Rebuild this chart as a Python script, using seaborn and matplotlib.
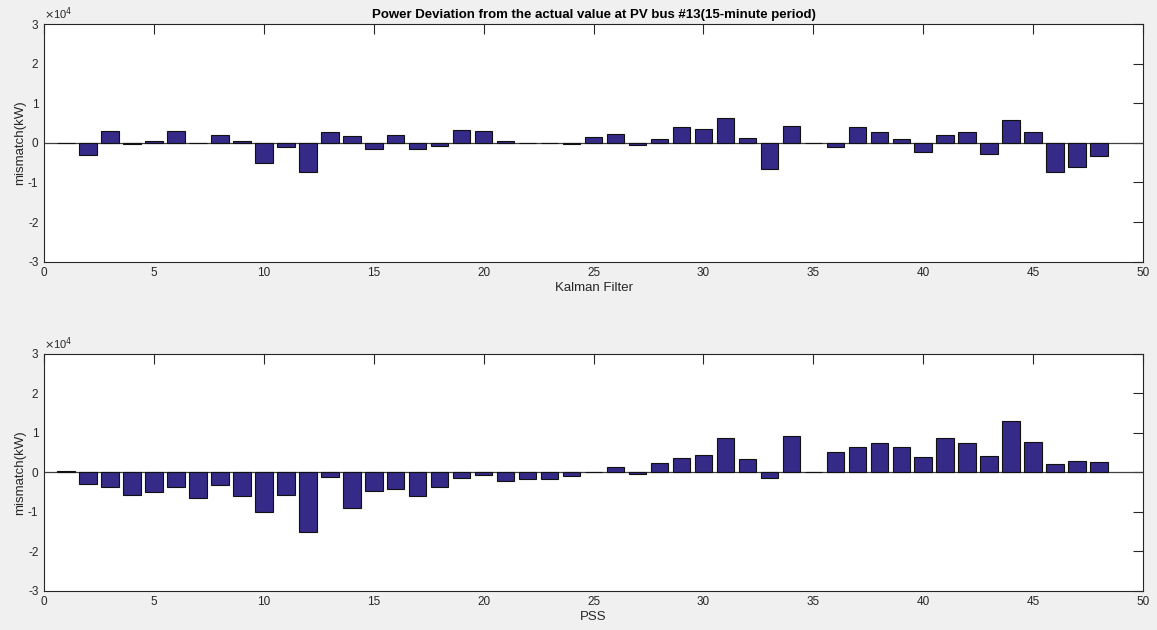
import numpy as np
import pandas as pd
import matplotlib
matplotlib.use("Agg")
import matplotlib.pyplot as plt
import seaborn as sns
from matplotlib.ticker import FuncFormatter

# ---- data ----
periods = list(range(1, 49))
kalman = [0, -3100, 2950, -250, 500, 2950, 50, 2100, 500, -5200,
          -1100, -7400, 2700, 1850, -1600, 2100, -1600, -750, 3200, 2950,
          350, 0, 0, -250, 1450, 2350, -500, 1000, 3950, 3450,
          6150, 1200, -6550, 4300, 0, -1100, 3880, 2860, 930, -2200,
          2000, 2860, -2700, 5650, 2860, -7250, -6000, -3300]
pss = [250, -2950, -3800, -5650, -5050, -3650, -6600, -3150, -6100, -10150,
       -5850, -15150, -1100, -9050, -4800, -4300, -6100, -3800, -1500, -750,
       -2300, -1600, -1600, -900, 0, 1450, -500, 2300, 3650, 4300,
       8600, 3400, -1350, 9200, 0, 5150, 6350, 7450, 6350, 3800,
       8600, 7450, 4050, 13100, 7700, 2050, 2900, 2550]
xlabels = ["Kalman Filter", "PSS"]
title = "Power Deviation from the actual value at PV bus #13(15-minute period)"
ylabel = "mismatch(kW)"

sns.set_theme(style="white")
plt.rcParams['font.family'] = ['Liberation Sans', 'DejaVu Sans']
plt.rcParams['axes.unicode_minus'] = False

bg = "#f0f0f0"
bar_color = "#352a87"
txt = "#262626"

fig = plt.figure(figsize=(11.57, 6.30), dpi=100, facecolor=bg)
left, width = 0.038, 0.950
ax1 = fig.add_axes([left, 0.5846, width, 0.3773])
ax2 = fig.add_axes([left, 0.0624, width, 0.3757])

yfmt = FuncFormatter(lambda v, p: "%d" % round(v / 1e4))

for ax, vals, xl in [(ax1, kalman, xlabels[0]), (ax2, pss, xlabels[1])]:
    df = pd.DataFrame({"period": periods, "value": vals})
    ax.set_facecolor("white")
    ax.axhline(0, color="#404040", lw=0.9, zorder=1)
    sns.barplot(data=df, x="period", y="value", native_scale=True, width=0.8,
                color=bar_color, saturation=1, edgecolor="#111111", linewidth=0.8,
                ax=ax, zorder=2)
    ax.set_xlim(0, 50)
    ax.set_ylim(-30000, 30000)
    ax.set_xticks(np.arange(0, 51, 5))
    ax.set_yticks(np.arange(-30000, 30001, 10000))
    ax.yaxis.set_major_formatter(yfmt)
    ax.text(0.0, 1.008, r"$\times$10$^4$", transform=ax.transAxes,
            fontsize=8, color=txt, ha="left", va="bottom")
    ax.tick_params(direction="in", length=7, width=0.8, colors=txt,
                   labelsize=8.5, top=True, right=True, pad=4)
    ax.set_xlabel(xl, fontsize=9.5, color=txt, labelpad=2)
    ax.set_ylabel(ylabel, fontsize=9.5, color=txt, labelpad=1)
    for s in ax.spines.values():
        s.set_color("#262626")
        s.set_linewidth(0.8)
        s.set_visible(True)

ax1.set_title(title, fontsize=9.5, fontweight="bold", color="black", pad=4)

fig.savefig("out.png", dpi=100, facecolor=bg)
